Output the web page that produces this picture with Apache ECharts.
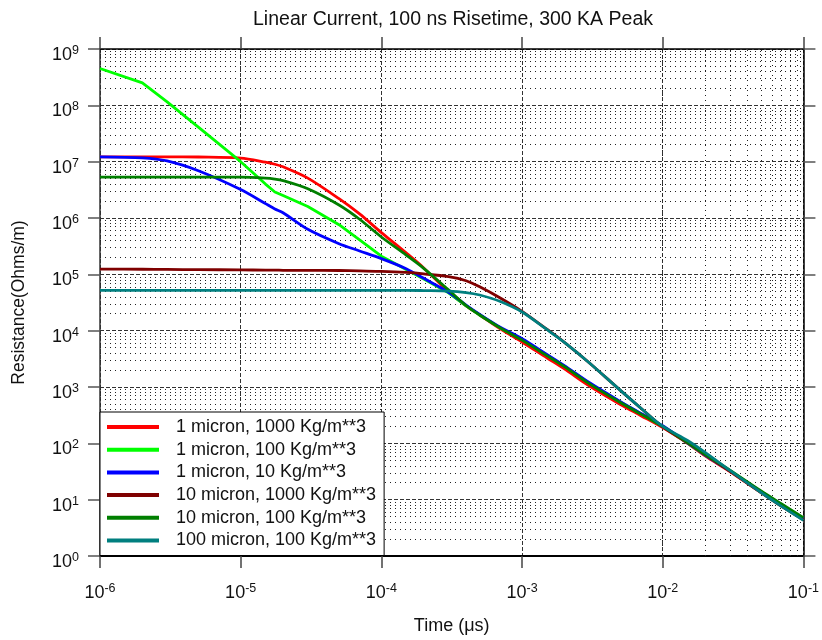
<!DOCTYPE html>
<html>
<head>
<meta charset="utf-8">
<script src="https://cdn.jsdelivr.net/npm/echarts@6/dist/echarts.min.js"></script>
<style>
  html, body { margin: 0; padding: 0; background: #fff; }
  #chart { width: 822px; height: 640px; }
</style>
</head>
<body>
<div id="chart"></div>
<script>
// Time samples (µs) shared by every curve
const timeUs = [1e-6, 2e-6, 3e-6, 5e-6, 1e-5, 1.5e-5, 1.75e-5, 2e-5, 3e-5, 5e-5, 7e-5,
  1e-4, 1.5e-4, 2e-4, 3e-4, 4e-4, 5e-4, 7e-4, 1e-3, 1.5e-3, 2e-3, 3e-3, 5e-3, 7e-3,
  1e-2, 1.5e-2, 2e-2, 3e-2, 5e-2, 7e-2, 1e-1];

// Resistance (Ohms/m) for each particle size / density case
const r1um1000 = [1.22e7, 1.22e7, 1.22e7, 1.21e7, 1.16e7, 9.8e6, 9.0e6, 8.1e6, 5.1e6, 2.2e6, 1.18e6,
  5.5e5, 2.4e5, 1.3e5, 4.9e4, 2.75e4, 1.9e4, 1.08e4, 6.3e3, 3.3e3, 2.1e3, 1.05e3, 490, 310,
  190, 100, 60, 31.6, 13.4, 7.9, 4.5];
const r1um100 = [4.5e8, 2.5e8, 1.15e8, 4.1e7, 1.0e7, 4.0e6, 2.9e6, 2.5e6, 1.6e6, 7.6e5, 4.1e5,
  2.1e5, 1.22e5, 8.3e4, 4.7e4, 2.75e4, 1.9e4, 1.12e4, 7.0e3, 3.7e3, 2.35e3, 1.17e3, 540, 335,
  200, 101, 62, 32.5, 13.8, 8.1, 4.6];
const r1um10 = [1.22e7, 1.17e7, 1.03e7, 6.9e6, 3.2e6, 1.8e6, 1.45e6, 1.24e6, 6.3e5, 3.5e5, 2.6e5,
  1.9e5, 1.26e5, 8.5e4, 4.8e4, 2.85e4, 1.95e4, 1.15e4, 7.2e3, 3.8e3, 2.4e3, 1.2e3, 550, 340,
  205, 102, 62, 32.5, 13.8, 8.1, 4.6];
const r10um1000 = [1.24e5, 1.23e5, 1.22e5, 1.21e5, 1.2e5, 1.19e5, 1.19e5, 1.18e5, 1.18e5, 1.17e5, 1.15e5,
  1.13e5, 1.08e5, 1.02e5, 9.1e4, 7.7e4, 6.0e4, 3.8e4, 2.2e4, 1.06e4, 6.2e3, 2.7e3, 870, 420,
  195, 103, 63, 32, 13.4, 7.6, 4.4];
const r10um100 = [5.3e6, 5.3e6, 5.3e6, 5.3e6, 5.3e6, 5.1e6, 4.9e6, 4.6e6, 3.3e6, 1.7e6, 9.5e5,
  4.6e5, 2.2e5, 1.28e5, 5.3e4, 2.8e4, 1.9e4, 1.12e4, 6.8e3, 3.6e3, 2.3e3, 1.15e3, 530, 330,
  200, 104, 64, 33.5, 14.3, 8.4, 4.8];
const r100um100 = [5.2e4, 5.2e4, 5.2e4, 5.2e4, 5.2e4, 5.2e4, 5.2e4, 5.2e4, 5.2e4, 5.2e4, 5.2e4,
  5.2e4, 5.2e4, 5.15e4, 5.05e4, 4.75e4, 4.3e4, 3.3e4, 2.15e4, 1.05e4, 6.2e3, 2.7e3, 870, 420,
  200, 112, 69, 33, 13.4, 7.6, 4.3];

const seriesNames = ['1 micron, 1000 Kg/m**3', '1 micron, 100 Kg/m**3', '1 micron, 10 Kg/m**3',
  '10 micron, 1000 Kg/m**3', '10 micron, 100 Kg/m**3', '100 micron, 100 Kg/m**3'];
const seriesValues = [r1um1000, r1um100, r1um10, r10um1000, r10um100, r100um100];
const seriesColors = ['#ff0000', '#00ff00', '#0000ff', '#7f0000', '#007f00', '#007f7f'];
// the 100 Kg/m**3, 1 micron run is plotted with its sampled corners kept
const seriesSmooth = [0.3, false, 0.3, 0.3, 0.3, 0.3];

const FONT = "'Liberation Sans', Arial, sans-serif";
const TEXT = '#111';

// dotted minor grid at 2..9 within each decade
const minorX = [];
for (let d = -6; d < -1; d++) for (let k = 2; k <= 9; k++) minorX.push(k * Math.pow(10, d));
const minorY = [];
for (let d = 0; d < 9; d++) for (let k = 2; k <= 9; k++) minorY.push(k * Math.pow(10, d));

const powLabel = v => '{b|10}{s|' + Math.round(Math.log10(v)) + '}';
const powRich = {
  b: { fontSize: 18, fontFamily: FONT, color: TEXT, lineHeight: 20, verticalAlign: 'bottom' },
  s: { fontSize: 12.5, fontFamily: FONT, color: TEXT, lineHeight: 12, verticalAlign: 'top' }
};

const majorGrid = { show: true, lineStyle: { type: [4, 2], color: '#333', width: 1 } };

const lineSeries = seriesNames.map((name, i) => ({
  name: name,
  type: 'line',
  xAxisIndex: 0,
  yAxisIndex: 0,
  data: timeUs.map((t, j) => [t, seriesValues[i][j]]),
  showSymbol: false,
  symbol: 'none',
  smooth: seriesSmooth[i],
  color: seriesColors[i],
  itemStyle: { color: seriesColors[i] },
  lineStyle: { color: seriesColors[i], width: 2.8, join: 'round' },
  z: 3
}));

const gridSeries = {
  name: 'minor-grid',
  type: 'line',
  xAxisIndex: 0,
  yAxisIndex: 0,
  data: [],
  silent: true,
  markLine: {
    silent: true,
    z: 1,
    symbol: ['none', 'none'],
    animation: false,
    label: { show: false },
    emphasis: { disabled: true },
    lineStyle: { type: [1, 4], color: '#222', width: 1 },
    data: minorX.map(v => ({ xAxis: v })).concat(minorY.map(v => ({ yAxis: v })))
  }
};

const chart = echarts.init(document.getElementById('chart'));
chart.setOption({
  animation: false,
  backgroundColor: '#fff',
  title: {
    text: 'Linear Current, 100 ns Risetime, 300 KA Peak',
    left: 448,
    textAlign: 'center',
    top: 5,
    textStyle: { fontSize: 19.5, fontWeight: 'normal', fontFamily: FONT, color: TEXT }
  },
  grid: { left: 100, right: 18, top: 49, bottom: 83 },
  legend: {
    orient: 'vertical',
    left: 100,
    top: 412,
    data: seriesNames,
    icon: 'rect',
    itemWidth: 52,
    itemHeight: 4,
    itemGap: 2.7,
    padding: [5, 8, 5, 7],
    backgroundColor: '#fff',
    borderColor: '#000',
    borderWidth: 1,
    selectedMode: false,
    textStyle: { fontSize: 18, fontFamily: FONT, color: TEXT, lineHeight: 20, padding: [0, 0, 0, 12] }
  },
  xAxis: [{
    type: 'log',
    logBase: 10,
    min: 1e-6,
    max: 1e-1,
    splitNumber: 5,
    position: 'bottom',
    name: 'Time (μs)',
    nameLocation: 'middle',
    nameGap: 61,
    nameTextStyle: { fontSize: 18, fontFamily: FONT, color: TEXT },
    axisLine: { show: true, lineStyle: { color: '#000', width: 2 } },
    axisTick: { show: true, length: 12, lineStyle: { color: '#444', width: 1.5 } },
    axisLabel: { formatter: powLabel, rich: powRich, margin: 26 },
    splitLine: majorGrid,
    minorTick: { show: false },
    minorSplitLine: { show: false }
  }, {
    type: 'log',
    logBase: 10,
    min: 1e-6,
    max: 1e-1,
    splitNumber: 5,
    position: 'top',
    axisLine: { show: true, lineStyle: { color: '#000', width: 1.5 } },
    axisTick: { show: true, length: 12, lineStyle: { color: '#444', width: 1.5 } },
    axisLabel: { show: false },
    splitLine: { show: false }
  }],
  yAxis: [{
    type: 'log',
    logBase: 10,
    min: 1,
    max: 1e9,
    splitNumber: 9,
    position: 'left',
    name: 'Resistance(Ohms/m)',
    nameLocation: 'middle',
    nameGap: 72,
    nameTextStyle: { fontSize: 17.5, fontFamily: FONT, color: TEXT },
    axisLine: { show: true, lineStyle: { color: '#333', width: 1.5 } },
    axisTick: { show: true, length: 12, lineStyle: { color: '#555', width: 1.5 } },
    axisLabel: { formatter: powLabel, rich: powRich, margin: 21, padding: [10, 0, 0, 0] },
    splitLine: majorGrid,
    minorTick: { show: false },
    minorSplitLine: { show: false }
  }, {
    type: 'log',
    logBase: 10,
    min: 1,
    max: 1e9,
    splitNumber: 9,
    position: 'right',
    axisLine: { show: true, lineStyle: { color: '#000', width: 1.5 } },
    axisTick: { show: true, length: 12, lineStyle: { color: '#555', width: 1.5 } },
    axisLabel: { show: false },
    splitLine: { show: false }
  }],
  series: [gridSeries].concat(lineSeries)
});
</script>
</body>
</html>
